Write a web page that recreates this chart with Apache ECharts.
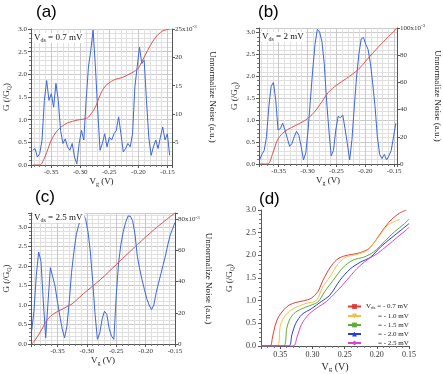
<!DOCTYPE html>
<html><head><meta charset="utf-8">
<script src="https://cdn.jsdelivr.net/npm/echarts@6/dist/echarts.min.js"></script>
<style>html,body{margin:0;padding:0;background:#fff}#c{width:443px;height:374px}</style>
</head><body><div id="c"></div>
<script>
// ---------- Panel (a) ----------
const aNoiseX = [-0.382,-0.378,-0.374,-0.370,-0.366,-0.362,-0.358,-0.354,-0.350,-0.346,
 -0.342,-0.338,-0.334,-0.330,-0.326,-0.322,-0.318,-0.314,-0.310,-0.306,
 -0.302,-0.298,-0.294,-0.290,-0.286,-0.282,-0.278,-0.274,-0.270,-0.266,
 -0.262,-0.258,-0.254,-0.250,-0.246,-0.242,-0.238,-0.234,-0.230,-0.226,
 -0.222,-0.218,-0.214,-0.210,-0.206,-0.202,-0.198,-0.194,-0.190,-0.186,
 -0.182,-0.178,-0.174,-0.170,-0.166,-0.162,-0.158,-0.154,-0.150,-0.146];
const aNoise = [3.6,3.9,2.4,3.0,5.4,12.4,15.9,12.4,13.6,11.2,
 15.4,12.4,7.1,4.8,5.6,4.2,3.6,4.8,2.4,1.2,
 4.8,7.1,5.4,12.4,18.3,21.2,24.8,18.3,10.6,3.6,
 4.8,6.5,4.2,5.9,5.4,6.5,7.1,9.5,6.5,3.3,
 3.9,4.8,4.2,6.5,14.8,18.3,21.8,18.9,19.5,12.4,
 5.9,2.7,4.2,5.4,3.9,5.9,7.7,5.4,6.5,2.7];
const aGX = [-0.382,-0.370,-0.361,-0.350,-0.3415,-0.333,-0.322,-0.305,-0.289,-0.283,-0.274,-0.266,-0.257,-0.243,-0.226,-0.209,-0.201,-0.193,-0.181,-0.170,-0.159,-0.146];
const aG = [0,0,0.18,0.55,0.73,0.84,0.93,0.99,1.03,1.1,1.28,1.54,1.74,1.87,1.94,2.05,2.12,2.3,2.6,2.82,2.95,3.0];

// ---------- Panel (b) ----------
const bNoiseX = [-0.383,-0.379,-0.375,-0.371,-0.367,-0.363,-0.359,-0.355,-0.351,-0.347,
 -0.343,-0.339,-0.335,-0.331,-0.327,-0.323,-0.319,-0.315,-0.311,-0.307,
 -0.303,-0.299,-0.295,-0.291,-0.287,-0.283,-0.279,-0.275,-0.271,-0.267,
 -0.263,-0.259,-0.255,-0.251,-0.247,-0.243,-0.239,-0.235,-0.231,-0.227,
 -0.223,-0.219,-0.215,-0.211,-0.207,-0.203,-0.199,-0.195,-0.191,-0.187,
 -0.183,-0.179,-0.175,-0.171,-0.167,-0.163,-0.159,-0.155,-0.151,-0.147];
const bNoise = [3,7,10,20,42,57,60,47,25,26,
 30,25,19,13,15,20,24,21,13,3,
 8,25,47,69,88,99,97,90,74,47,
 25,6,10,25,35,34,36,26,15,3,
 18,42,64,81,92,93,88,84,74,59,
 42,20,7,4,7,3,6,10,20,30];
const bGX = [-0.383,-0.369,-0.360,-0.352,-0.343,-0.335,-0.3205,-0.3035,-0.289,-0.275,-0.264,-0.2495,-0.2325,-0.2126,-0.1956,-0.1785,-0.1615,-0.1445];
const bG = [0,0,0.25,0.55,0.7,0.78,0.88,1.0,1.17,1.42,1.63,1.8,1.95,2.15,2.4,2.65,2.88,3.1];

// ---------- Panel (c) ----------
const cNoiseX = [-0.394,-0.390,-0.386,-0.382,-0.378,-0.374,-0.370,-0.366,-0.362,-0.358,
 -0.354,-0.350,-0.346,-0.342,-0.338,-0.334,-0.330,-0.326,-0.322,-0.318,
 -0.314,-0.310,-0.306,-0.302,-0.298,-0.294,-0.290,-0.286,-0.282,-0.278,
 -0.274,-0.270,-0.266,-0.262,-0.258,-0.254,-0.250,-0.246,-0.242,-0.238,
 -0.234,-0.230,-0.226,-0.222,-0.218,-0.214,-0.210,-0.206,-0.202,-0.198,
 -0.194,-0.190,-0.186,-0.182,-0.178,-0.174,-0.170,-0.166,-0.162,-0.158,
 -0.154,-0.150];
const cNoise = [8,21,44,59,53,27,4,27,49,43,
 37,27,18,10,4,11,27,46,59,70,
 76,81,83,80,72,59,40,19,3,7,
 16,21,19,10,5,3,31,52,64,72,
 78,82,82,79,70,56,48,41,35,29,
 25,22,25,33,39,45,51,57,64,70,
 74,78];
const cGX = [-0.394,-0.390,-0.379,-0.3675,-0.356,-0.345,-0.3336,-0.325,-0.305,-0.277,-0.249,-0.221,-0.192,-0.164,-0.150];
const cG = [0,0.06,0.31,0.62,0.78,0.87,0.96,1.03,1.3,1.65,2.05,2.45,2.85,3.2,3.36];

// ---------- Panel (d) ----------
const d07X = [0.380,0.366,0.362,0.358,0.3525,0.3445,0.3366,0.326,0.3128,0.3022,0.2917,0.2837,0.2731,0.2626,0.252,0.2388,0.2255,0.2123,0.2017,0.1911,0.1779,0.1647,0.1541];
const d07 = [0,0,0.2,0.45,0.65,0.8,0.9,0.96,1.0,1.05,1.2,1.45,1.72,1.9,1.98,2.02,2.06,2.15,2.33,2.55,2.78,2.93,3.0];
const d10X = [0.380,0.355,0.3498,0.3419,0.3287,0.3102,0.2943,0.2837,0.2731,0.2599,0.2467,0.2308,0.215,0.1991,0.1832,0.1647];
const d10 = [0,0,0.46,0.68,0.83,0.94,1.0,1.31,1.52,1.82,1.97,2.02,2.11,2.37,2.66,2.79];
const d15X = [0.380,0.345,0.3400,0.3350,0.326,0.3102,0.2917,0.2811,0.2678,0.252,0.2361,0.2202,0.2044,0.1885,0.1726,0.1568,0.150];
const d15 = [0,0,0.39,0.6,0.75,0.86,0.97,1.2,1.45,1.74,1.9,1.96,2.08,2.3,2.52,2.7,2.8];
const d20X = [0.380,0.337,0.332,0.326,0.316,0.302,0.2864,0.2731,0.2573,0.2414,0.2255,0.2097,0.1938,0.1779,0.162,0.150];
const d20 = [0,0,0.25,0.5,0.7,0.82,0.98,1.12,1.45,1.7,1.85,1.96,2.19,2.38,2.56,2.7];
const d25X = [0.380,0.330,0.324,0.317,0.307,0.2943,0.2784,0.2626,0.2467,0.2308,0.215,0.1991,0.1832,0.1673,0.1541,0.150];
const d25 = [0,0,0.2,0.48,0.68,0.83,0.98,1.2,1.45,1.71,1.9,2.04,2.22,2.41,2.56,2.62];

const dNames = ['- 0.7 mV','- 1.0 mV','- 1.5 mV','- 2.0 mV','- 2.5 mV'];
const dColors = ['#e23a3a','#f2c04a','#5cae35','#2a3ed0','#d446d4'];

const zip = (xs, ys) => xs.map((x, i) => [x, ys[i]]);
const SERIF = 'Liberation Serif';
const BLUE = '#3d66d8', RED = '#d9534f';
const sub = {sub:{fontSize:6, verticalAlign:'bottom', padding:[4,0,0,0], fontFamily:SERIF, color:'#222'}};
const subG = {sub:{fontSize:6, verticalAlign:'bottom', padding:[4,0,0,0], fontFamily:SERIF, fill:'#222'}};
const sup = {sup:{fontSize:5, verticalAlign:'top', padding:[0,0,4,0], fontFamily:SERIF, color:'#333'}};
const mult = (v, s) => Math.abs(v / s - Math.round(v / s)) < 1e-6;

function xAxisABC(gi, min, max) {
  return {
    type:'value', gridIndex:gi, min, max, splitNumber:5,
    name:'V{sub|g} (V)', nameLocation:'middle', nameGap:12,
    nameTextStyle:{fontFamily:SERIF, fontSize:9, color:'#222', rich:sub},
    axisLine:{show:true, lineStyle:{color:'#555'}},
    axisTick:{show:true, length:3, lineStyle:{color:'#555'}},
    minorTick:{show:true, splitNumber:5, length:2, lineStyle:{color:'#777'}},
    splitLine:{show:true, lineStyle:{color:'#c9c9c9', width:1}},
    minorSplitLine:{show:true, lineStyle:{color:'#e0e0e0', width:1}},
    axisLabel:{fontFamily:SERIF, fontSize:7, color:'#333', margin:4,
      formatter:v => mult(v, 0.05) ? v.toFixed(2) : ''}
  };
}
function yLeftABC(gi, max) {
  return {
    type:'value', gridIndex:gi, min:0, max, interval:0.5, position:'left',
    name:'G (/G{sub|Q})', nameLocation:'middle', nameGap:19, nameRotate:90,
    nameTextStyle:{fontFamily:SERIF, fontSize:9, color:'#222', rich:sub},
    axisLine:{show:true, lineStyle:{color:'#555'}},
    axisTick:{show:true, length:3, lineStyle:{color:'#555'}},
    minorTick:{show:true, splitNumber:5, length:2, lineStyle:{color:'#777'}},
    splitLine:{show:true, lineStyle:{color:'#c9c9c9', width:1}},
    minorSplitLine:{show:true, lineStyle:{color:'#e0e0e0', width:1}},
    axisLabel:{fontFamily:SERIF, fontSize:7, color:'#333', margin:4,
      formatter:v => mult(v, 0.5) ? v.toFixed(1) : ''}
  };
}
function yRightABC(gi, min, max, interval, top, nameGap, custom) {
  const ax = {
    type:'value', gridIndex:gi, min, max, position:'right',
    name:'Unnormalize Noise (a.u.)', nameLocation:'middle', nameGap, nameRotate:-90,
    nameTextStyle:{fontFamily:SERIF, fontSize:9, color:'#222'},
    axisLine:{show:true, lineStyle:{color:'#555'}},
    axisTick:{show:true, length:3, lineStyle:{color:'#555'}},
    splitLine:{show:false},
    axisLabel:{fontFamily:SERIF, fontSize:7, color:'#333', margin:3, rich:sup,
      formatter:v => v === top ? top + 'x10{sup|-3}' : (mult(v, interval) ? String(v) : '')}
  };
  if (custom) {
    ax.axisLabel.customValues = custom;
    ax.axisTick.customValues = custom;
  } else {
    ax.interval = interval;
  }
  return ax;
}

const dAxisCommon = {
  axisLine:{show:true, lineStyle:{color:'#555'}},
  axisTick:{show:true, length:3, lineStyle:{color:'#555'}},
  minorTick:{show:true, splitNumber:5, length:2, lineStyle:{color:'#777'}},
  splitLine:{show:false}
};

function vdsLabel(left, top, text) {
  return {type:'text', left, top, z:100, style:{text, fontFamily:SERIF, fontSize:9, fill:'#111',
    backgroundColor:'#fff', padding:[0,2,0,1], rich:subG}};
}

const option = {
  animation:false,
  backgroundColor:'#fff',
  grid:[
    {left:31, top:29, width:141, height:136},
    {left:259, top:28, width:140, height:136},
    {left:31, top:213, width:144, height:131},
    {left:261, top:210, width:148, height:136}
  ],
  xAxis:[
    xAxisABC(0, -0.385, -0.142),
    xAxisABC(1, -0.384, -0.145),
    xAxisABC(2, -0.395, -0.150),
    Object.assign({
      type:'value', gridIndex:3, min:0.15, max:0.38, interval:0.05, inverse:true,
      name:'V{sub|g} (V)', nameLocation:'middle', nameGap:15,
      nameTextStyle:{fontFamily:SERIF, fontSize:10, color:'#222', rich:{sub:{fontSize:7, verticalAlign:'bottom', padding:[5,0,0,0], fontFamily:SERIF}}},
      axisLabel:{fontFamily:SERIF, fontSize:8, color:'#333', margin:5,
        formatter:v => mult(v, 0.05) ? v.toFixed(2) : ''}
    }, dAxisCommon)
  ],
  yAxis:[
    yLeftABC(0, 3.0),
    yRightABC(0, 1, 25, 5, 25, 36, [5,10,15,20,25]),
    yLeftABC(1, 3.1),
    yRightABC(1, 0, 100, 20, 100, 36),
    yLeftABC(2, 3.36),
    yRightABC(2, 0, 84, 20, 80, 27),
    Object.assign({
      type:'value', gridIndex:3, min:0, max:3, interval:0.5,
      name:'G (/G{sub|Q})', nameLocation:'middle', nameGap:26, nameRotate:90,
      nameTextStyle:{fontFamily:SERIF, fontSize:9, color:'#222', rich:sub},
      axisLabel:{fontFamily:SERIF, fontSize:8, color:'#333', margin:5,
        formatter:v => v.toFixed(1)}
    }, dAxisCommon)
  ],
  legend:{
    left:342, top:298, orient:'vertical', itemWidth:13, itemHeight:6, itemGap:2,
    data:['d07','d10','d15','d20','d25'],
    textStyle:{fontFamily:SERIF, fontSize:7, color:'#222',
      rich:{sub:{fontSize:5, verticalAlign:'bottom', padding:[3,0,0,0], fontFamily:SERIF}, p:{width:12}}},
    formatter:n => {
      const i = ['d07','d10','d15','d20','d25'].indexOf(n);
      return i === 0 ? 'V{sub|ds} = ' + dNames[0] : '{p|}= ' + dNames[i];
    }
  },
  graphic:[
    {type:'text', left:36, top:4, style:{text:'(a)', font:'17px "Liberation Sans"', fill:'#000'}},
    {type:'text', left:258, top:4, style:{text:'(b)', font:'17px "Liberation Sans"', fill:'#000'}},
    {type:'text', left:35, top:189, style:{text:'(c)', font:'17px "Liberation Sans"', fill:'#000'}},
    {type:'text', left:259, top:191, style:{text:'(d)', font:'17px "Liberation Sans"', fill:'#000'}},
    vdsLabel(33, 33, 'V{sub|ds} = 0.7 mV'),
    vdsLabel(261, 32, 'V{sub|ds} = 2 mV'),
    vdsLabel(33, 213, 'V{sub|ds} = 2.5 mV')
  ],
  series:[
    {type:'line', xAxisIndex:0, yAxisIndex:1, data:zip(aNoiseX, aNoise), showSymbol:false, lineStyle:{color:BLUE, width:1}, itemStyle:{color:BLUE}},
    {type:'line', xAxisIndex:0, yAxisIndex:0, data:zip(aGX, aG), showSymbol:false, smooth:0.3, lineStyle:{color:RED, width:1}, itemStyle:{color:RED}},
    {type:'line', xAxisIndex:1, yAxisIndex:3, data:zip(bNoiseX, bNoise), showSymbol:false, lineStyle:{color:BLUE, width:1}, itemStyle:{color:BLUE}},
    {type:'line', xAxisIndex:1, yAxisIndex:2, data:zip(bGX, bG), showSymbol:false, smooth:0.3, lineStyle:{color:RED, width:1}, itemStyle:{color:RED}},
    {type:'line', xAxisIndex:2, yAxisIndex:5, data:zip(cNoiseX, cNoise), showSymbol:false, lineStyle:{color:BLUE, width:1}, itemStyle:{color:BLUE}},
    {type:'line', xAxisIndex:2, yAxisIndex:4, data:zip(cGX, cG), showSymbol:false, smooth:0.3, lineStyle:{color:RED, width:1}, itemStyle:{color:RED}},
    {name:'d07', type:'line', xAxisIndex:3, yAxisIndex:6, data:zip(d07X, d07), showSymbol:false, symbol:'rect', smooth:0.3, lineStyle:{color:dColors[0], width:1}, itemStyle:{color:dColors[0]}},
    {name:'d10', type:'line', xAxisIndex:3, yAxisIndex:6, data:zip(d10X, d10), showSymbol:false, symbol:'triangle', symbolRotate:180, smooth:0.3, lineStyle:{color:dColors[1], width:1}, itemStyle:{color:dColors[1]}},
    {name:'d15', type:'line', xAxisIndex:3, yAxisIndex:6, data:zip(d15X, d15), showSymbol:false, symbol:'rect', smooth:0.3, lineStyle:{color:dColors[2], width:1}, itemStyle:{color:dColors[2]}},
    {name:'d20', type:'line', xAxisIndex:3, yAxisIndex:6, data:zip(d20X, d20), showSymbol:false, symbol:'triangle', smooth:0.3, lineStyle:{color:dColors[3], width:1}, itemStyle:{color:dColors[3]}},
    {name:'d25', type:'line', xAxisIndex:3, yAxisIndex:6, data:zip(d25X, d25), showSymbol:false, symbol:'diamond', smooth:0.3, lineStyle:{color:dColors[4], width:1}, itemStyle:{color:dColors[4]}}
  ]
};
const chart = echarts.init(document.getElementById('c'), null, {renderer:'canvas'});
chart.setOption(option);
</script></body></html>
